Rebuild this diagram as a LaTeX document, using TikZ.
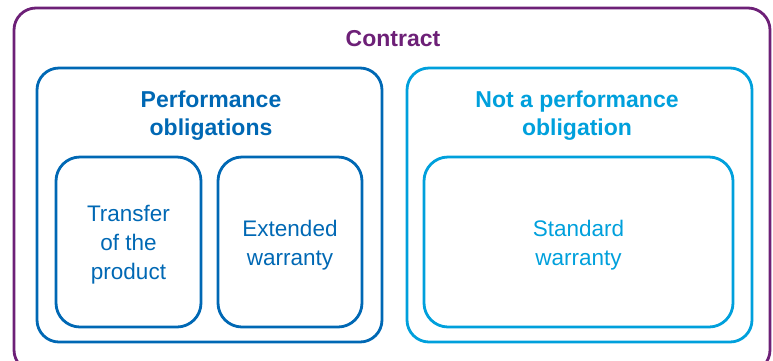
\documentclass[tikz,border=0pt]{standalone}
\usepackage{fontspec}
\setmainfont{Liberation Sans}
\definecolor{contractpurple}{HTML}{6D2077}
\definecolor{obligblue}{HTML}{0068B4}
\definecolor{notobligblue}{HTML}{00A0DC}
\tikzset{
  framebox/.style={draw, line width=2.8pt, rounded corners=22pt, inner sep=0pt},
  itembox/.style={framebox, rounded corners=24pt, minimum height=170pt},
  headtext/.style={align=center, font=\fontsize{23}{28}\selectfont\bfseries},
  itemtext/.style={align=center, font=\fontsize{22.5}{29}\selectfont}
}
\begin{document}
\begin{tikzpicture}[x=1pt, y=-1pt]
\useasboundingbox (0,0) rectangle (773,360);
\clip (0,0) rectangle (773,360);
% outer contract frame (runs past the lower edge)
\node[framebox, draw=contractpurple, minimum width=756pt, minimum height=364pt] (contract) at (392,190) {};
\node[headtext, text=contractpurple] (contractlbl) at (393,39) {Contract};
% performance obligations
\node[framebox, draw=obligblue, minimum width=345pt, minimum height=274pt] (perf) at (209.5,205) {};
\node[headtext, text=obligblue] (perflbl) at (211,116) {Performance\\obligations};
\node[itembox, draw=obligblue, minimum width=145pt] (transfer) at (128.5,242) {};
\node[itemtext, text=obligblue] (transferlbl) at ([yshift=-3pt]transfer) {Transfer\\of the\\product};
\node[itembox, draw=obligblue, minimum width=144pt] (extended) at (290,242) {};
\node[itemtext, text=obligblue] (extendedlbl) at ([yshift=-3pt]extended) {Extended\\warranty};
% not a performance obligation
\node[framebox, draw=notobligblue, minimum width=345pt, minimum height=274pt] (notperf) at (579.5,205) {};
\node[headtext, text=notobligblue] (notperflbl) at (577,116) {Not a performance\\obligation};
\node[itembox, draw=notobligblue, minimum width=309pt] (standard) at (578.5,242) {};
\node[itemtext, text=notobligblue] (standardlbl) at ([yshift=-3pt]standard) {Standard\\warranty};
\end{tikzpicture}
\end{document}
